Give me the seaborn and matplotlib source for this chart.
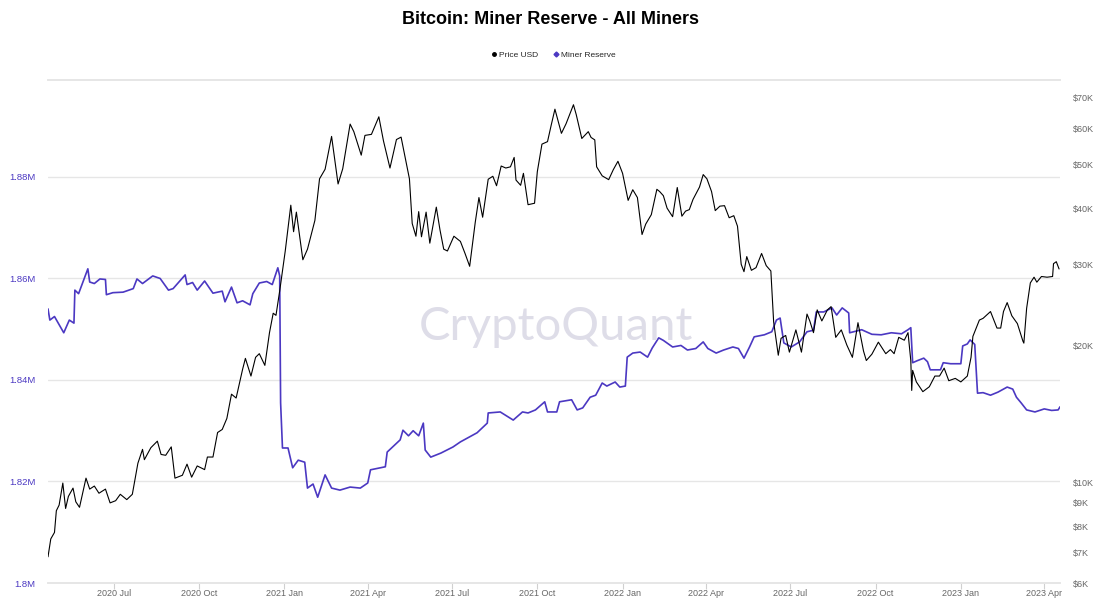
import numpy as np
import pandas as pd
import seaborn as sns
import matplotlib.pyplot as plt
import matplotlib.dates as mdates
from matplotlib.ticker import FixedLocator, FuncFormatter, NullLocator
from matplotlib.lines import Line2D

# BTC price (USD)
price_dates = [
    "2020-04-21", "2020-04-24", "2020-04-28", "2020-04-30", "2020-05-03", "2020-05-07", "2020-05-10",
    "2020-05-13", "2020-05-18", "2020-05-21", "2020-05-25", "2020-06-01", "2020-06-05", "2020-06-10",
    "2020-06-15", "2020-06-22", "2020-06-27", "2020-07-03", "2020-07-08", "2020-07-15", "2020-07-21",
    "2020-07-27", "2020-08-01", "2020-08-03", "2020-08-10", "2020-08-17", "2020-08-21", "2020-08-26",
    "2020-09-01", "2020-09-05", "2020-09-13", "2020-09-18", "2020-09-23", "2020-09-29", "2020-10-07",
    "2020-10-10", "2020-10-16", "2020-10-21", "2020-10-26", "2020-10-31", "2020-11-05", "2020-11-10",
    "2020-11-17", "2020-11-20", "2020-11-26", "2020-12-01", "2020-12-05", "2020-12-11", "2020-12-16",
    "2020-12-20", "2020-12-23", "2020-12-27", "2021-01-02", "2021-01-08", "2021-01-11", "2021-01-14",
    "2021-01-21", "2021-01-26", "2021-01-29", "2021-02-03", "2021-02-08", "2021-02-14", "2021-02-21",
    "2021-02-28", "2021-03-05", "2021-03-13", "2021-03-17", "2021-03-25", "2021-03-29", "2021-04-05",
    "2021-04-13", "2021-04-18", "2021-04-25", "2021-05-02", "2021-05-07", "2021-05-13", "2021-05-16",
    "2021-05-19", "2021-05-23", "2021-05-26", "2021-05-29", "2021-06-03", "2021-06-07", "2021-06-14",
    "2021-06-18", "2021-06-22", "2021-06-26", "2021-07-03", "2021-07-10", "2021-07-15", "2021-07-20",
    "2021-07-26", "2021-07-30", "2021-08-03", "2021-08-09", "2021-08-14", "2021-08-18", "2021-08-23",
    "2021-08-28", "2021-09-02", "2021-09-06", "2021-09-08", "2021-09-13", "2021-09-16", "2021-09-21",
    "2021-09-28", "2021-10-01", "2021-10-06", "2021-10-12", "2021-10-16", "2021-10-20", "2021-10-27",
    "2021-11-01", "2021-11-09", "2021-11-12", "2021-11-18", "2021-11-25", "2021-11-28", "2021-12-02",
    "2021-12-04", "2021-12-10", "2021-12-13", "2021-12-17", "2021-12-22", "2021-12-27", "2022-01-01",
    "2022-01-07", "2022-01-12", "2022-01-17", "2022-01-22", "2022-01-26", "2022-02-01", "2022-02-07",
    "2022-02-10", "2022-02-14", "2022-02-18", "2022-02-24", "2022-03-01", "2022-03-06", "2022-03-10",
    "2022-03-14", "2022-03-18", "2022-03-25", "2022-03-29", "2022-04-02", "2022-04-07", "2022-04-11",
    "2022-04-16", "2022-04-21", "2022-04-26", "2022-05-01", "2022-05-05", "2022-05-09", "2022-05-12",
    "2022-05-15", "2022-05-20", "2022-05-25", "2022-05-31", "2022-06-05", "2022-06-10", "2022-06-13",
    "2022-06-18", "2022-06-21", "2022-06-26", "2022-06-30", "2022-07-07", "2022-07-13", "2022-07-19",
    "2022-07-22", "2022-07-26", "2022-07-30", "2022-08-04", "2022-08-10", "2022-08-14", "2022-08-19",
    "2022-08-25", "2022-08-31", "2022-09-06", "2022-09-12", "2022-09-18", "2022-09-21", "2022-09-27",
    "2022-10-04", "2022-10-12", "2022-10-17", "2022-10-21", "2022-10-26", "2022-11-01", "2022-11-05",
    "2022-11-08", "2022-11-09", "2022-11-10", "2022-11-14", "2022-11-21", "2022-11-28", "2022-12-04",
    "2022-12-09", "2022-12-14", "2022-12-19", "2022-12-26", "2023-01-01", "2023-01-08", "2023-01-12",
    "2023-01-14", "2023-01-21", "2023-01-25", "2023-02-02", "2023-02-09", "2023-02-13", "2023-02-16",
    "2023-02-20", "2023-02-25", "2023-03-03", "2023-03-09", "2023-03-10", "2023-03-13", "2023-03-17",
    "2023-03-21", "2023-03-24", "2023-03-29", "2023-04-04", "2023-04-10", "2023-04-11", "2023-04-14",
    "2023-04-17",
]
price_usd = [
    6850, 7500, 7750, 8650, 8900, 9950, 8750,
    9300, 9700, 9050, 8800, 10200, 9650, 9800,
    9450, 9650, 9000, 9100, 9400, 9150, 9400,
    11000, 11800, 11200, 11900, 12300, 11500, 11450,
    11950, 10200, 10350, 10950, 10250, 10850, 10650,
    11350, 11350, 12850, 13050, 13800, 15600, 15300,
    17700, 18700, 17100, 18800, 19150, 18050, 21300,
    23500, 23250, 26300, 32200, 40600, 35500, 39200,
    30800, 32500, 34300, 37600, 46400, 48700, 57500,
    45200, 48800, 61200, 58900, 52300, 57800, 58100,
    63500, 56200, 49000, 56600, 57300, 49700, 46400,
    37000, 34700, 39300, 34600, 39200, 33500, 40200,
    35800, 32500, 32200, 34700, 33800, 31800, 29800,
    37200, 42200, 38200, 46300, 47000, 44800, 49500,
    49000, 49300, 51700, 46100, 44900, 47700, 40700,
    41000, 48100, 55300, 56000, 60900, 66000, 58400,
    61300, 67500, 64200, 56900, 58900, 57200, 56500,
    49300, 47100, 46700, 46200, 48600, 50700, 47700,
    41600, 43900, 42200, 35000, 36900, 38700, 44000,
    43500, 42600, 40000, 38300, 44400, 38400, 39400,
    39700, 41800, 44500, 47400, 46400, 43500, 39500,
    40400, 40500, 38100, 38500, 36500, 30100, 29000,
    31300, 29200, 29600, 31800, 29900, 29100, 22500,
    19000, 20700, 21000, 19300, 21600, 19300, 23400,
    22600, 21300, 23900, 22600, 23900, 24300, 20800,
    21600, 20000, 18800, 22400, 19400, 18500, 19100,
    20300, 19150, 19550, 19150, 20800, 20500, 21300,
    18500, 15900, 17600, 16600, 15800, 16200, 17100,
    17100, 17800, 16700, 16900, 16600, 17100, 18800,
    20900, 22700, 22900, 23700, 21800, 21800, 23700,
    24800, 23200, 22300, 20400, 20200, 24100, 27400,
    28200, 27500, 28300, 28200, 28300, 30200, 30500,
    29400,
]

# Miner reserve (million BTC)
reserve_dates = [
    "2020-04-21", "2020-04-23", "2020-04-28", "2020-05-08", "2020-05-14", "2020-05-19", "2020-05-20",
    "2020-05-24", "2020-06-03", "2020-06-05", "2020-06-10", "2020-06-16", "2020-06-22", "2020-06-23",
    "2020-06-30", "2020-07-11", "2020-07-22", "2020-07-26", "2020-08-01", "2020-08-12", "2020-08-20",
    "2020-08-29", "2020-09-03", "2020-09-16", "2020-09-18", "2020-09-24", "2020-09-29", "2020-10-07",
    "2020-10-16", "2020-10-26", "2020-10-29", "2020-11-05", "2020-11-11", "2020-11-17", "2020-11-25",
    "2020-11-28", "2020-12-05", "2020-12-13", "2020-12-19", "2020-12-25", "2020-12-27", "2020-12-28",
    "2020-12-30", "2021-01-05", "2021-01-10", "2021-01-16", "2021-01-23", "2021-01-26", "2021-02-01",
    "2021-02-06", "2021-02-14", "2021-02-21", "2021-03-02", "2021-03-13", "2021-03-24", "2021-04-01",
    "2021-04-04", "2021-04-20", "2021-04-22", "2021-05-06", "2021-05-09", "2021-05-15", "2021-05-20",
    "2021-05-26", "2021-05-31", "2021-06-02", "2021-06-08", "2021-06-19", "2021-07-02", "2021-07-10",
    "2021-07-28", "2021-08-08", "2021-08-09", "2021-08-22", "2021-09-05", "2021-09-15", "2021-09-21",
    "2021-09-29", "2021-10-09", "2021-10-12", "2021-10-22", "2021-10-25", "2021-11-07", "2021-11-13",
    "2021-11-19", "2021-11-27", "2021-12-03", "2021-12-10", "2021-12-15", "2021-12-24", "2021-12-29",
    "2022-01-04", "2022-01-06", "2022-01-12", "2022-01-20", "2022-01-28", "2022-02-02", "2022-02-09",
    "2022-02-14", "2022-02-24", "2022-03-05", "2022-03-12", "2022-03-21", "2022-03-29", "2022-04-03",
    "2022-04-12", "2022-04-20", "2022-04-30", "2022-05-06", "2022-05-12", "2022-05-18", "2022-05-23",
    "2022-06-03", "2022-06-11", "2022-06-16", "2022-06-20", "2022-06-24", "2022-07-02", "2022-07-11",
    "2022-07-19", "2022-07-26", "2022-07-29", "2022-08-06", "2022-08-15", "2022-08-20", "2022-08-26",
    "2022-09-02", "2022-09-03", "2022-09-16", "2022-09-27", "2022-10-07", "2022-10-18", "2022-10-29",
    "2022-11-05", "2022-11-08", "2022-11-10", "2022-11-15", "2022-11-22", "2022-11-26", "2022-11-29",
    "2022-12-10", "2022-12-13", "2022-12-21", "2023-01-01", "2023-01-03", "2023-01-08", "2023-01-11",
    "2023-01-16", "2023-01-19", "2023-01-25", "2023-02-02", "2023-02-10", "2023-02-20", "2023-02-26",
    "2023-03-02", "2023-03-07", "2023-03-13", "2023-03-22", "2023-04-01", "2023-04-09", "2023-04-16",
    "2023-04-18",
]
miner_reserve = [
    1.8540, 1.8518, 1.8525, 1.8493, 1.8518, 1.8512, 1.8577,
    1.8570, 1.8619, 1.8593, 1.8590, 1.8599, 1.8598, 1.8568,
    1.8572, 1.8573, 1.8580, 1.8599, 1.8590, 1.8605, 1.8600,
    1.8577, 1.8580, 1.8607, 1.8588, 1.8592, 1.8577, 1.8595,
    1.8571, 1.8575, 1.8554, 1.8583, 1.8552, 1.8556, 1.8548,
    1.8570, 1.8591, 1.8594, 1.8588, 1.8621, 1.8605, 1.8355,
    1.8266, 1.8266, 1.8227, 1.8242, 1.8238, 1.8187, 1.8195,
    1.8169, 1.8213, 1.8187, 1.8183, 1.8189, 1.8187, 1.8197,
    1.8223, 1.8229, 1.8258, 1.8282, 1.8301, 1.8290, 1.8300,
    1.8290, 1.8315, 1.8262, 1.8248, 1.8256, 1.8268, 1.8278,
    1.8296, 1.8315, 1.8335, 1.8337, 1.8321, 1.8337, 1.8335,
    1.8341, 1.8357, 1.8337, 1.8337, 1.8357, 1.8361, 1.8341,
    1.8345, 1.8366, 1.8370, 1.8394, 1.8388, 1.8396, 1.8386,
    1.8388, 1.8445, 1.8453, 1.8455, 1.8445, 1.8463, 1.8483,
    1.8478, 1.8465, 1.8468, 1.8459, 1.8462, 1.8475, 1.8462,
    1.8453, 1.8459, 1.8465, 1.8462, 1.8443, 1.8465, 1.8485,
    1.8489, 1.8495, 1.8518, 1.8522, 1.8473, 1.8465, 1.8475,
    1.8495, 1.8498, 1.8534, 1.8534, 1.8542, 1.8528, 1.8542,
    1.8532, 1.8493, 1.8499, 1.8490, 1.8489, 1.8493, 1.8491,
    1.8499, 1.8503, 1.8434, 1.8438, 1.8443, 1.8436, 1.8420,
    1.8420, 1.8434, 1.8432, 1.8432, 1.8467, 1.8471, 1.8479,
    1.8470, 1.8374, 1.8375, 1.8370, 1.8376, 1.8386, 1.8382,
    1.8366, 1.8355, 1.8341, 1.8337, 1.8343, 1.8340, 1.8341,
    1.8347,
]

price_ticks = [6000, 7000, 8000, 9000, 10000, 20000, 30000, 40000, 50000, 60000, 70000]
reserve_ticks = [1.80e6, 1.82e6, 1.84e6, 1.86e6, 1.88e6]

purple = "#4b38c2"
grey_txt = "#666666"
grid_c = "#e6e6e6"

price_df = pd.DataFrame({"date": pd.to_datetime(price_dates), "price": price_usd})
reserve_df = pd.DataFrame({"date": pd.to_datetime(reserve_dates),
                           "reserve": np.array(miner_reserve) * 1e6})

sns.set_theme(style="white")
plt.rcParams["font.family"] = ["Liberation Sans", "DejaVu Sans"]

fig = plt.figure(figsize=(11, 6.1), dpi=100)
ax = fig.add_axes([48 / 1100, 1 - 583 / 610, 1012 / 1100, 503 / 610])

# miner reserve on the left axis
sns.lineplot(data=reserve_df, x="date", y="reserve", ax=ax, color=purple, linewidth=1.2)
ax.set_ylim(1.8e6, 1.8991e6)
ax.yaxis.set_major_locator(FixedLocator(reserve_ticks))
ax.yaxis.set_major_formatter(FuncFormatter(lambda v, _: f"{v / 1e6:g}M"))
ax.tick_params(axis="y", colors=purple, labelsize=6.8, length=0, pad=9)
ax.grid(axis="y", color=grid_c, linewidth=1)
ax.set_axisbelow(True)

# price on the right, log scale
ax2 = ax.twinx()
sns.lineplot(data=price_df, x="date", y="price", ax=ax2, color="black", linewidth=0.8)
ax2.set_yscale("log")
ax2.set_ylim(6000, 76500)
ax2.yaxis.set_major_locator(FixedLocator(price_ticks))
ax2.yaxis.set_minor_locator(NullLocator())
ax2.yaxis.set_major_formatter(FuncFormatter(lambda v, _: f"${v / 1000:g}K"))
ax2.tick_params(axis="y", colors=grey_txt, labelsize=6.5, length=0, pad=9)

ax.set_xlim(pd.Timestamp("2020-04-21"), pd.Timestamp("2023-04-18"))
ax.xaxis.set_major_locator(mdates.MonthLocator(bymonth=[1, 4, 7, 10]))
ax.xaxis.set_major_formatter(mdates.DateFormatter("%Y %b"))
ax.tick_params(axis="x", colors=grey_txt, labelsize=6.5, length=4, width=0.8,
               direction="out", pad=0.5, bottom=True)
ax.tick_params(axis="x", which="major", color="#d0d0d0")

for a in (ax, ax2):
    a.set_xlabel("")
    a.set_ylabel("")
    for s in ("left", "right"):
        a.spines[s].set_visible(False)
    a.spines["bottom"].set_color(grid_c)
    a.spines["top"].set_color(grid_c)

fig.text(0.5, 1 - 20 / 610, "Bitcoin: Miner Reserve - All Miners",
         ha="center", va="center", fontsize=13, fontweight="bold", color="black")

handles = [Line2D([], [], marker="o", color="black", ls="none", ms=2.5),
           Line2D([], [], marker="D", color=purple, ls="none", ms=2.5)]
fig.legend(handles, ["Price USD", "Miner Reserve"], loc="center",
           bbox_to_anchor=(0.503, 1 - 55 / 610), ncol=2, frameon=False,
           fontsize=6, handletextpad=0.2, columnspacing=1.8, handlelength=0.8)

# watermark
fig.text(0.505, 1 - 327 / 610, "CryptoQuant", ha="center", va="center",
         fontsize=34, color="#dedde8", family=["Lato", "DejaVu Sans"], zorder=0)

plt.savefig("out.png", dpi=100)
